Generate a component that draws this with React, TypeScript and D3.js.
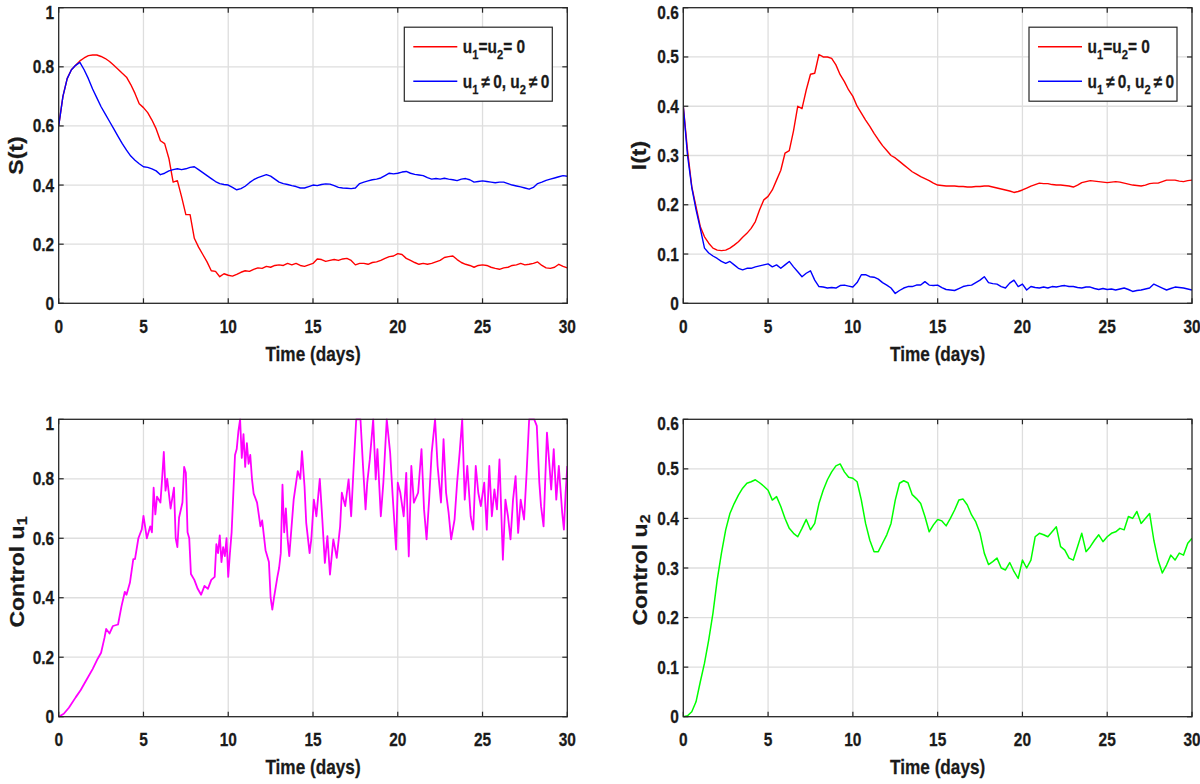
import React from 'react';
import * as d3 from 'd3';

// ---------- data ----------
const xTicks = [0, 5, 10, 15, 20, 25, 30];
const yTicksUnit = [0, 0.2, 0.4, 0.6, 0.8, 1];
const yTicksSix = [0, 0.1, 0.2, 0.3, 0.4, 0.5, 0.6];

// samples every 0.25 day, t = 0 .. 30
const quarterDays = d3.range(0, 30.0001, 0.25);

const sNoControl = [
  0.60, 0.70, 0.76, 0.79, 0.805, 0.82, 0.83, 0.838, 0.84, 0.84, 0.835, 0.828,
  0.818, 0.805, 0.792, 0.778, 0.765, 0.74, 0.71, 0.675, 0.662, 0.645, 0.62, 0.59,
  0.55, 0.54, 0.49, 0.41, 0.415, 0.36, 0.30, 0.30, 0.22, 0.19, 0.165, 0.14,
  0.11, 0.108, 0.09, 0.10, 0.095, 0.092, 0.098, 0.105, 0.11, 0.108, 0.115, 0.12,
  0.118, 0.125, 0.122, 0.128, 0.13, 0.128, 0.135, 0.13, 0.135, 0.128, 0.125, 0.13,
  0.135, 0.15, 0.148, 0.142, 0.145, 0.148, 0.145, 0.15, 0.152, 0.145, 0.13, 0.135,
  0.135, 0.132, 0.138, 0.14, 0.145, 0.152, 0.158, 0.16, 0.168, 0.165, 0.152, 0.145,
  0.138, 0.132, 0.135, 0.132, 0.135, 0.14, 0.145, 0.155, 0.158, 0.16, 0.148, 0.138,
  0.132, 0.128, 0.122, 0.128, 0.13, 0.128, 0.122, 0.118, 0.115, 0.12, 0.122, 0.128,
  0.13, 0.135, 0.13, 0.132, 0.135, 0.14, 0.128, 0.12, 0.118, 0.122, 0.132, 0.125,
  0.12,
];

const sControl = [
  0.60, 0.70, 0.76, 0.79, 0.805, 0.815, 0.79, 0.76, 0.725, 0.695, 0.665, 0.64,
  0.615, 0.59, 0.565, 0.54, 0.518, 0.498, 0.484, 0.472, 0.462, 0.46, 0.455, 0.448,
  0.435, 0.44, 0.448, 0.452, 0.455, 0.452, 0.455, 0.46, 0.462, 0.452, 0.442, 0.432,
  0.422, 0.412, 0.405, 0.402, 0.40, 0.392, 0.384, 0.388, 0.396, 0.408, 0.418, 0.425,
  0.43, 0.435, 0.43, 0.42, 0.41, 0.405, 0.402, 0.398, 0.395, 0.39, 0.39, 0.395,
  0.40, 0.398, 0.402, 0.404, 0.403, 0.398, 0.392, 0.39, 0.389, 0.388, 0.39, 0.405,
  0.41, 0.414, 0.418, 0.42, 0.424, 0.432, 0.44, 0.438, 0.44, 0.444, 0.446, 0.44,
  0.436, 0.434, 0.432, 0.425, 0.42, 0.422, 0.42, 0.423, 0.42, 0.418, 0.415, 0.42,
  0.422, 0.418, 0.41, 0.412, 0.414, 0.412, 0.41, 0.408, 0.41, 0.41, 0.405, 0.40,
  0.397, 0.394, 0.39, 0.386, 0.392, 0.405, 0.41, 0.416, 0.42, 0.424, 0.428, 0.432,
  0.43,
];

const iNoControl = [
  0.40, 0.31, 0.237, 0.196, 0.156, 0.135, 0.122, 0.112, 0.108, 0.107, 0.108, 0.112,
  0.118, 0.125, 0.134, 0.142, 0.152, 0.166, 0.19, 0.21, 0.217, 0.23, 0.25, 0.27,
  0.305, 0.31, 0.35, 0.40, 0.395, 0.433, 0.465, 0.467, 0.505, 0.50, 0.50, 0.497,
  0.484, 0.464, 0.45, 0.433, 0.42, 0.40, 0.386, 0.372, 0.359, 0.345, 0.332, 0.32,
  0.31, 0.30, 0.295, 0.288, 0.281, 0.274, 0.267, 0.262, 0.257, 0.253, 0.249, 0.244,
  0.24, 0.239, 0.238, 0.238, 0.238, 0.237, 0.237, 0.236, 0.236, 0.237, 0.237, 0.238,
  0.238, 0.236, 0.234, 0.232, 0.23, 0.228, 0.225, 0.227, 0.23, 0.234, 0.238, 0.241,
  0.244, 0.243, 0.243, 0.241, 0.24, 0.24, 0.239, 0.238, 0.236, 0.24, 0.245, 0.247,
  0.249, 0.248, 0.247, 0.246, 0.245, 0.246, 0.247, 0.246, 0.244, 0.242, 0.24, 0.239,
  0.238, 0.24, 0.243, 0.244, 0.244, 0.247, 0.25, 0.25, 0.25, 0.248, 0.247, 0.249,
  0.25,
];

const iControl = [
  0.40, 0.30, 0.235, 0.19, 0.152, 0.112, 0.102, 0.096, 0.091, 0.085, 0.081, 0.085,
  0.078, 0.071, 0.068, 0.071, 0.071, 0.074, 0.076, 0.078, 0.08, 0.074, 0.078, 0.071,
  0.078, 0.085, 0.074, 0.064, 0.054, 0.061, 0.066, 0.047, 0.034, 0.033, 0.031, 0.032,
  0.031, 0.036, 0.037, 0.035, 0.033, 0.042, 0.058, 0.058, 0.054, 0.053, 0.049, 0.042,
  0.037, 0.031, 0.02, 0.026, 0.031, 0.034, 0.034, 0.037, 0.037, 0.044, 0.037, 0.036,
  0.037, 0.032, 0.028, 0.027, 0.026, 0.03, 0.034, 0.036, 0.037, 0.042, 0.047, 0.054,
  0.042, 0.04, 0.039, 0.034, 0.031, 0.041, 0.047, 0.034, 0.039, 0.027, 0.034, 0.032,
  0.031, 0.033, 0.031, 0.034, 0.033, 0.035, 0.036, 0.034, 0.034, 0.032, 0.031, 0.033,
  0.033, 0.03, 0.028, 0.03, 0.028, 0.029, 0.027, 0.029, 0.031, 0.028, 0.024, 0.026,
  0.027, 0.029, 0.031, 0.039, 0.035, 0.031, 0.027, 0.03, 0.033, 0.032, 0.031, 0.029,
  0.027,
];

const u2Values = [
  0, 0.002, 0.01, 0.03, 0.07, 0.108, 0.155, 0.209, 0.276, 0.33, 0.377, 0.41,
  0.43, 0.447, 0.461, 0.471, 0.474, 0.478, 0.472, 0.465, 0.457, 0.437, 0.444, 0.424,
  0.40, 0.38, 0.37, 0.363, 0.38, 0.398, 0.377, 0.39, 0.43, 0.457, 0.478, 0.494,
  0.506, 0.51, 0.494, 0.483, 0.481, 0.474, 0.437, 0.39, 0.356, 0.333, 0.333, 0.35,
  0.367, 0.39, 0.437, 0.471, 0.476, 0.472, 0.448, 0.44, 0.43, 0.404, 0.373, 0.387,
  0.398, 0.395, 0.385, 0.40, 0.417, 0.437, 0.439, 0.427, 0.407, 0.393, 0.37, 0.33,
  0.307, 0.313, 0.32, 0.30, 0.296, 0.311, 0.293, 0.279, 0.316, 0.30, 0.316, 0.363,
  0.37, 0.367, 0.363, 0.373, 0.383, 0.343, 0.336, 0.32, 0.316, 0.343, 0.37, 0.333,
  0.343, 0.356, 0.367, 0.353, 0.363, 0.37, 0.373, 0.38, 0.377, 0.404, 0.40, 0.414,
  0.39, 0.40, 0.41, 0.356, 0.316, 0.29, 0.306, 0.326, 0.316, 0.33, 0.326, 0.35,
  0.36,
];

const u1Days = [
  0, 0.3, 0.6, 1.0, 1.3, 1.6, 2.0, 2.3, 2.5, 2.7, 2.8, 3.0, 3.2, 3.5, 3.7, 3.9,
  4.0, 4.2, 4.4, 4.5, 4.7, 4.9, 5.0, 5.2, 5.4, 5.5, 5.6, 5.7, 5.8, 6.0, 6.1, 6.2,
  6.3, 6.4, 6.6, 6.8, 6.9, 7.0, 7.1, 7.3, 7.4, 7.5, 7.6, 7.7, 7.8, 8.0, 8.2, 8.4,
  8.6, 8.8, 9.0, 9.2, 9.3, 9.4, 9.5, 9.6, 9.7, 9.8, 9.9, 10.0, 10.1, 10.2, 10.4,
  10.5, 10.6, 10.7, 10.8, 10.9, 11.0, 11.1, 11.2, 11.3, 11.4, 11.5, 11.7, 11.9,
  12.0, 12.2, 12.4, 12.5, 12.6, 12.7, 12.9, 13.0, 13.1, 13.2, 13.3, 13.4, 13.5,
  13.6, 13.86, 14.1, 14.25, 14.35, 14.5, 14.6, 14.8, 14.9, 15.05, 15.2, 15.4,
  15.55, 15.7, 15.85, 16.0, 16.2, 16.4, 16.6, 16.7, 16.9, 17.1, 17.25, 17.4,
  17.55, 17.8, 17.95, 18.1, 18.2, 18.35, 18.55, 18.7, 18.8, 19.0, 19.15, 19.35,
  19.55, 19.7, 19.9, 20.0, 20.15, 20.35, 20.5, 20.65, 20.8, 20.95, 21.2, 21.4,
  21.55, 21.7, 21.85, 22.0, 22.2, 22.35, 22.55, 22.7, 22.85, 23.0, 23.15, 23.35,
  23.5, 23.65, 23.8, 23.95, 24.1, 24.3, 24.45, 24.6, 24.75, 24.9, 25.1, 25.25,
  25.4, 25.55, 25.7, 25.85, 26.0, 26.2, 26.35, 26.5, 26.65, 26.8, 26.95, 27.1,
  27.25, 27.45, 27.6, 27.75, 28.05, 28.2, 28.35, 28.45, 28.6, 28.8, 28.95, 29.05,
  29.2, 29.35, 29.5, 29.7, 29.8, 29.9, 30.0,
];

const u1Values = [
  0, 0.01, 0.03, 0.065, 0.09, 0.12, 0.16, 0.195, 0.215, 0.265, 0.295, 0.28, 0.305, 0.31, 0.37, 0.42,
  0.41, 0.45, 0.53, 0.53, 0.60, 0.63, 0.675, 0.60, 0.64, 0.62, 0.77, 0.68, 0.74, 0.72, 0.80, 0.89,
  0.76, 0.80, 0.70, 0.77, 0.60, 0.57, 0.67, 0.72, 0.84, 0.82, 0.62, 0.60, 0.48, 0.46, 0.43, 0.41,
  0.44, 0.43, 0.46, 0.47, 0.58, 0.55, 0.61, 0.52, 0.57, 0.54, 0.60, 0.47, 0.55, 0.62, 0.88,
  0.90, 0.96, 1.0, 0.87, 0.95, 0.84, 0.92, 0.85, 0.88, 0.80, 0.75, 0.72, 0.64,
  0.66, 0.56, 0.52, 0.40, 0.36, 0.40, 0.47, 0.50, 0.55, 0.78, 0.62, 0.70, 0.60,
  0.54, 0.73, 0.826, 0.80, 0.893, 0.775, 0.652, 0.55, 0.596, 0.73, 0.674, 0.80,
  0.663, 0.517, 0.607, 0.478, 0.596, 0.534, 0.64, 0.753, 0.708, 0.798, 0.674, 0.843,
  1.0, 1.0, 0.843, 0.697, 0.787, 0.865, 1.0, 0.798, 0.90, 0.674, 0.787, 1.0,
  0.888, 0.742, 0.562, 0.787, 0.753, 0.674, 0.82, 0.539, 0.843, 0.72, 0.753, 0.90,
  0.697, 0.596, 0.73, 0.888, 1.0, 0.843, 0.72, 0.933, 0.753, 0.685, 0.596, 0.663,
  0.787, 0.888, 1.0, 0.73, 0.843, 0.674, 0.629, 0.843, 0.753, 0.708, 0.787, 0.629,
  0.843, 0.674, 0.764, 0.697, 0.865, 0.528, 0.73, 0.674, 0.596, 0.73, 0.809, 0.618,
  0.73, 0.663, 0.82, 1.0, 1.0, 0.978, 0.787, 0.708, 0.64, 0.955, 0.843, 0.764,
  0.90, 0.73, 0.843, 0.685, 0.629, 0.753, 0.843,
];

// ---------- styles ----------
const FONT = "'Liberation Sans', Arial, Helvetica, sans-serif";
const SQ = 0.86; // horizontal squeeze of the original figure's lettering
const INK = '#1a1a1a';
const GRID = '#dedede';
const AXIS = '#262626';
const BOLD = { stroke: INK, strokeWidth: 0.25 };

type Series = { days: number[]; values: number[]; color: string; width: number };
type Box = { left: number; right: number; top: number; bottom: number };

function Panel(props: {
  box: Box;
  yMax: number;
  yTicks: number[];
  series: Series[];
  yLabel: React.ReactNode;
  yLabelX: number;
  yLabelShift: number;
  legend?: boolean;
  id: string;
}) {
  const { box, yMax, yTicks, series, yLabel, yLabelX, yLabelShift, legend, id } = props;
  const x = d3.scaleLinear().domain([0, 30]).range([box.left, box.right]);
  const y = d3.scaleLinear().domain([0, yMax]).range([box.bottom, box.top]);
  const tickLen = 5;
  const midX = (box.left + box.right) / 2;
  const midY = (box.top + box.bottom) / 2;
  const fmt = (v: number) => (v === 0 ? '0' : v === 1 ? '1' : d3.format('.1f')(v));

  const lg = { x: box.right - 163, y: box.top + 19.5, w: 148, h: 74 };

  return (
    <g>
      <defs>
        <clipPath id={id}>
          <rect x={box.left} y={box.top - 1} width={box.right - box.left} height={box.bottom - box.top + 2} />
        </clipPath>
      </defs>
      <rect x={box.left} y={box.top} width={box.right - box.left} height={box.bottom - box.top} fill="#fff" />
      {/* grid */}
      {xTicks.slice(1, -1).map((t) => (
        <line key={'gx' + t} x1={x(t)} x2={x(t)} y1={box.top} y2={box.bottom} stroke={GRID} strokeWidth={1.3} />
      ))}
      {yTicks.slice(1, -1).map((t) => (
        <line key={'gy' + t} x1={box.left} x2={box.right} y1={y(t)} y2={y(t)} stroke={GRID} strokeWidth={1.3} />
      ))}
      {/* series */}
      <g clipPath={`url(#${id})`}>
        {series.map((s, i) => {
          const line = d3
            .line<number>()
            .x((_, k) => x(s.days[k]))
            .y((v) => y(v));
          return (
            <path key={i} d={line(s.values) || ''} fill="none" stroke={s.color} strokeWidth={s.width} strokeLinejoin="round" />
          );
        })}
      </g>
      {/* ticks */}
      {xTicks.map((t) => (
        <g key={'tx' + t}>
          <line x1={x(t)} x2={x(t)} y1={box.bottom} y2={box.bottom - tickLen} stroke={AXIS} strokeWidth={1.2} />
          <line x1={x(t)} x2={x(t)} y1={box.top} y2={box.top + tickLen} stroke={AXIS} strokeWidth={1.2} />
          <text
            transform={`translate(${x(t)},${box.bottom + 29.5}) scale(${SQ},1)`}
            textAnchor="middle"
            fontFamily={FONT}
            fontWeight="bold"
            fontSize={18}
            fill={INK}
            {...BOLD}
          >
            {t}
          </text>
        </g>
      ))}
      {yTicks.map((t) => (
        <g key={'ty' + t}>
          <line x1={box.left} x2={box.left + tickLen} y1={y(t)} y2={y(t)} stroke={AXIS} strokeWidth={1.2} />
          <line x1={box.right} x2={box.right - tickLen} y1={y(t)} y2={y(t)} stroke={AXIS} strokeWidth={1.2} />
          <text
            transform={`translate(${box.left - 4.5},${Math.max(y(t) + 6.5, box.top + 11)}) scale(${SQ},1)`}
            textAnchor="end"
            fontFamily={FONT}
            fontWeight="bold"
            fontSize={18}
            fill={INK}
            {...BOLD}
          >
            {fmt(t)}
          </text>
        </g>
      ))}
      <rect x={box.left} y={box.top} width={box.right - box.left} height={box.bottom - box.top} fill="none" stroke={AXIS} strokeWidth={1.3} />
      {/* labels */}
      <text
        transform={`translate(${midX},${box.bottom + 57.5}) scale(${SQ},1)`}
        textAnchor="middle"
        fontFamily={FONT}
        fontWeight="bold"
        fontSize={20}
        fill={INK}
        {...BOLD}
      >
        Time (days)
      </text>
      <text
        transform={`translate(${yLabelX},${midY + yLabelShift}) scale(${SQ},1) rotate(-90)`}
        textAnchor="middle"
        fontFamily={FONT}
        fontWeight="bold"
        fontSize={23}
        fill={INK}
        {...BOLD}
      >
        {yLabel}
      </text>
      {legend && (
        <g>
          <rect x={lg.x} y={lg.y} width={lg.w} height={lg.h} fill="#fff" stroke={AXIS} strokeWidth={1.2} />
          <line x1={lg.x + 9} x2={lg.x + 53} y1={lg.y + 19.5} y2={lg.y + 19.5} stroke="#ff0000" strokeWidth={1.4} />
          <line x1={lg.x + 9} x2={lg.x + 53} y1={lg.y + 54} y2={lg.y + 54} stroke="#0000ff" strokeWidth={1.4} />
          <text
            transform={`translate(${lg.x + 58.5},${lg.y + 26}) scale(${SQ},1)`}
            fontFamily={FONT}
            fontWeight="bold"
            fontSize={18}
            fill={INK}
            {...BOLD}
          >
            u<tspan dy={6} fontSize={13}>1</tspan>
            <tspan dy={-6}>=u</tspan>
            <tspan dy={6} fontSize={13}>2</tspan>
            <tspan dy={-6}>= 0</tspan>
          </text>
          <text
            transform={`translate(${lg.x + 58.5},${lg.y + 60.5}) scale(${SQ},1)`}
            fontFamily={FONT}
            fontWeight="bold"
            fontSize={18}
            fill={INK}
            {...BOLD}
          >
            u<tspan dy={6} fontSize={13}>1</tspan>
            <tspan dy={-6}>{'\u2009\u2260\u20090, u'}</tspan>
            <tspan dy={6} fontSize={13}>2</tspan>
            <tspan dy={-6}>{'\u2009\u2260\u20090'}</tspan>
          </text>
        </g>
      )}
    </g>
  );
}

export default function App() {
  const tl: Box = { left: 58.7, right: 567.3, top: 7.7, bottom: 303.3 };
  const tr: Box = { left: 683.3, right: 1192, top: 7.7, bottom: 303.3 };
  const bl: Box = { left: 58.7, right: 567.3, top: 419.3, bottom: 716.7 };
  const br: Box = { left: 683.3, right: 1192, top: 419.3, bottom: 716.7 };

  return (
    <svg
      width={1200}
      height={784}
      viewBox="0 0 1200 784"
      style={{ position: 'absolute', left: 0, top: 0, background: '#fff' }}
    >
      <rect x={0} y={0} width={1200} height={784} fill="#fff" />
      <Panel
        id="c1"
        box={tl}
        yMax={1}
        yTicks={yTicksUnit}
        series={[
          { days: quarterDays, values: sNoControl, color: '#ff0000', width: 1.4 },
          { days: quarterDays, values: sControl, color: '#0000ff', width: 1.4 },
        ]}
        yLabel="S(t)"
        yLabelX={23}
        yLabelShift={0}
        legend
      />
      <Panel
        id="c2"
        box={tr}
        yMax={0.6}
        yTicks={yTicksSix}
        series={[
          { days: quarterDays, values: iNoControl, color: '#ff0000', width: 1.4 },
          { days: quarterDays, values: iControl, color: '#0000ff', width: 1.4 },
        ]}
        yLabel="I(t)"
        yLabelX={646}
        yLabelShift={0}
        legend
      />
      <Panel
        id="c3"
        box={bl}
        yMax={1}
        yTicks={yTicksUnit}
        series={[{ days: u1Days, values: u1Values, color: '#ff00ff', width: 1.8 }]}
        yLabel={
          <>
            Control u<tspan dy={4} fontSize={16}>1</tspan>
          </>
        }
        yLabelX={24}
        yLabelShift={4}
      />
      <Panel
        id="c4"
        box={br}
        yMax={0.6}
        yTicks={yTicksSix}
        series={[{ days: quarterDays, values: u2Values, color: '#00ff00', width: 1.5 }]}
        yLabel={
          <>
            Control u<tspan dy={4} fontSize={16}>2</tspan>
          </>
        }
        yLabelX={647}
        yLabelShift={2}
      />
    </svg>
  );
}
